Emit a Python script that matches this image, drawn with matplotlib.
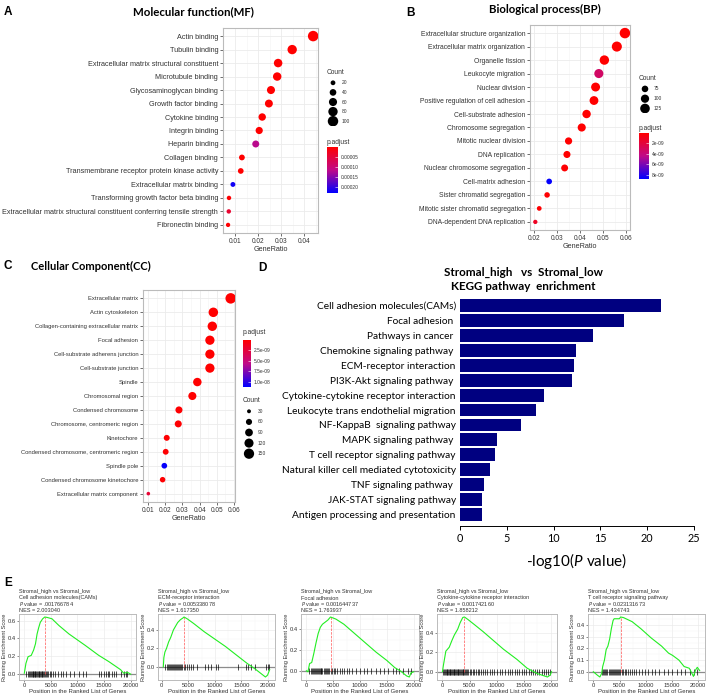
import matplotlib
matplotlib.use('Agg')
import matplotlib.pyplot as plt
import numpy as np
from matplotlib.colors import LinearSegmentedColormap, Normalize
from matplotlib.cm import ScalarMappable
from matplotlib.ticker import MultipleLocator, FormatStrFormatter

plt.rcParams['font.family'] = ['Liberation Sans', 'DejaVu Sans']
plt.rcParams['mathtext.fontset'] = 'custom'
plt.rcParams['mathtext.it'] = 'Lato:italic'
plt.rcParams['mathtext.rm'] = 'Lato'

W, H = 709, 694

# ---------------- data ----------------
mf_terms = ['Actin binding', 'Tubulin binding', 'Extracellular matrix structural constituent',
            'Microtubule binding', 'Glycosaminoglycan binding', 'Growth factor binding',
            'Cytokine binding', 'Integrin binding', 'Heparin binding', 'Collagen binding',
            'Transmembrane receptor protein kinase activity', 'Extracellular matrix binding',
            'Transforming growth factor beta binding',
            'Extracellular matrix structural constituent conferring tensile strength',
            'Fibronectin binding']
mf_ratio = [0.0439, 0.0348, 0.0287, 0.0283, 0.0256, 0.0247, 0.0218, 0.0205, 0.0190,
            0.0130, 0.0125, 0.0091, 0.0074, 0.0073, 0.0070]
mf_count = [101, 80, 66, 65, 59, 57, 50, 47, 44, 30, 29, 21, 17, 17, 16]
mf_padj = [1e-12, 1e-11, 1e-11, 2e-10, 1e-9, 2e-9, 5e-9, 1e-8, 0.00012, 1e-7, 2e-7,
           0.000222, 2e-6, 0.00004, 3e-6]

bp_terms = ['Extracellular structure organization', 'Extracellular matrix organization',
            'Organelle fission', 'Leukocyte migration', 'Nuclear division',
            'Positive regulation of cell adhesion', 'Cell-substrate adhesion',
            'Chromosome segregation', 'Mitotic nuclear division', 'DNA replication',
            'Nuclear chromosome segregation', 'Cell-matrix adhesion',
            'Sister chromatid segregation', 'Mitotic sister chromatid segregation',
            'DNA-dependent DNA replication']
bp_ratio = [0.0594, 0.0559, 0.0505, 0.0481, 0.0467, 0.0460, 0.0428, 0.0407, 0.0350,
            0.0343, 0.0333, 0.0266, 0.0257, 0.0223, 0.0206]
bp_count = [143, 134, 121, 115, 112, 110, 103, 98, 84, 82, 80, 64, 62, 54, 50]
bp_padj = [1e-20, 1e-19, 1e-15, 3.2e-9, 1e-14, 1e-12, 1e-11, 1e-12, 1e-11, 1e-12,
           1e-10, 8.7e-9, 1e-10, 1e-10, 1.2e-9]

cc_terms = ['Extracellular matrix', 'Actin cytoskeleton', 'Collagen-containing extracellular matrix',
            'Focal adhesion', 'Cell-substrate adherens junction', 'Cell-substrate junction',
            'Spindle', 'Chromosomal region', 'Condensed chromosome',
            'Chromosome, centromeric region', 'Kinetochore',
            'Condensed chromosome, centromeric region', 'Spindle pole',
            'Condensed chromosome kinetochore', 'Extracellular matrix component']
cc_ratio = [0.0581, 0.0480, 0.0474, 0.0460, 0.0460, 0.0460, 0.0387, 0.0358, 0.0280,
            0.0276, 0.0209, 0.0203, 0.0195, 0.0185, 0.0102]
cc_count = [157, 130, 128, 124, 124, 124, 105, 97, 76, 75, 57, 55, 53, 50, 27]
cc_padj = [1e-20, 1e-15, 1e-18, 1e-14, 1e-14, 1e-14, 1e-11, 1e-11, 1e-10, 1e-10,
           1e-10, 1e-10, 1.1e-8, 1e-10, 2.2e-9]

kegg_terms = ['Cell adhesion molecules(CAMs)', 'Focal adhesion ', 'Pathways in cancer ',
              'Chemokine signaling pathway ', 'ECM-receptor interaction',
              'PI3K-Akt signaling pathway ', 'Cytokine-cytokine receptor interaction',
              'Leukocyte trans endothelial migration', 'NF-KappaB  signaling pathway',
              'MAPK signaling pathway ', 'T cell receptor signaling pathway',
              'Natural killer cell mediated cytotoxicity', 'TNF signaling pathway ',
              'JAK-STAT signaling pathway', 'Antigen processing and presentation']
kegg_logp = [21.5, 17.55, 14.2, 12.4, 12.2, 12.0, 9.0, 8.1, 6.55, 3.9, 3.77, 3.17,
             2.56, 2.38, 2.35]

# GSEA running enrichment scores (position, score) and hit positions
cam_x = [0, 300, 700, 1300, 1750, 2100, 2400, 2700, 3000, 3450, 3850, 4300, 5200, 6500,
         8400, 11500, 14000, 15900, 18100, 18700, 19400, 20000]
cam_es = [0.01, 0.12, 0.195, 0.21, 0.27, 0.34, 0.45, 0.52, 0.58, 0.62, 0.64, 0.635, 0.62,
          0.545, 0.45, 0.32, 0.21, 0.14, 0.05, 0.01, 0.02, 0.0]
cam_hits = [400, 700, 900, 1100, 1250, 1400, 1550, 1700, 1850, 2000, 2100, 2250, 2400,
            2550, 2700, 2800, 2950, 3100, 3250, 3400, 3550, 3700, 3850, 4050, 4300, 4500,
            4750, 5000, 5300, 5700, 6300, 6900, 7300, 7900, 8600, 9400, 10300, 11100,
            11600, 14100, 14500, 14900, 15300, 15700, 16000, 16400, 16800, 17200, 18200,
            18700, 19100, 19400]

ecm_x = [300, 400, 600, 900, 1300, 1700, 2200, 2600, 3000, 3500, 4000, 4200, 4800, 6000,
         8000, 10000, 12000, 14000, 16000, 17500, 19500, 19900, 20300]
ecm_es = [0.0, 0.1, 0.16, 0.2, 0.27, 0.32, 0.40, 0.44, 0.48, 0.51, 0.53, 0.54, 0.52, 0.47,
          0.38, 0.30, 0.22, 0.13, 0.04, -0.02, -0.11, -0.09, -0.03]
ecm_hits = [600, 900, 1100, 1300, 1500, 1700, 1900, 2100, 2300, 2500, 2700, 2900, 3100,
            3300, 3500, 3700, 3900, 4100, 4400, 4700, 5100, 5500, 5900, 6700, 8200, 8700,
            9300, 10200, 10500, 14300, 15900, 16300, 16700, 17500, 19600, 19900, 20200]

focal_x = [0, 300, 600, 1000, 1400, 1800, 2200, 2600, 3000, 3500, 4000, 4500, 5500, 7000,
           9000, 11000, 13000, 15000, 16500, 17500, 18700, 19200, 19500, 20000]
focal_es = [0.0, -0.01, 0.07, 0.08, 0.17, 0.27, 0.36, 0.42, 0.45, 0.47, 0.49, 0.52, 0.50,
            0.45, 0.36, 0.27, 0.18, 0.10, 0.03, 0.0, -0.05, -0.06, -0.02, -0.01]
focal_hits = [500, 800, 1000, 1200, 1400, 1600, 1800, 1950, 2100, 2300, 2500, 2650, 2800,
              3000, 3200, 3400, 3600, 3800, 4000, 4200, 4500, 4800, 5100, 5400, 5800,
              6200, 6600, 7000, 7500, 8000, 8600, 9200, 10000, 10800, 11300, 12100, 13000,
              13800, 14500, 15300, 16100, 16700, 17300, 18000, 19000, 19600]

cyto_x = [0, 190, 625, 940, 1250, 1750, 2190, 2810, 3250, 3750, 4060, 4690, 5940, 7500,
          9375, 11250, 13750, 15625, 17500, 19375, 19875, 20125]
cyto_es = [0.0, 0.07, 0.21, 0.23, 0.25, 0.32, 0.375, 0.435, 0.50, 0.555, 0.56, 0.535, 0.48,
           0.41, 0.32, 0.23, 0.125, 0.035, -0.02, -0.055, -0.035, 0.0]
cyto_hits = [150, 300, 450, 600, 750, 900, 1000, 1150, 1300, 1450, 1600, 1750, 1900, 2050,
             2200, 2350, 2500, 2650, 2800, 2950, 3100, 3250, 3400, 3550, 3700, 3850, 4000,
             4200, 4400, 4600, 4800, 5000, 5300, 5600, 5900, 6200, 6500, 6800, 7100, 7500,
             7900, 8300, 8700, 9200, 9600, 10100, 10600, 11000, 11500, 12000, 12400, 12900,
             13300, 13800, 14200, 14700, 15100, 15500, 15900, 16300, 16700, 17100, 17500,
             17900, 18300, 18700, 19100, 19500, 19900]

tcell_x = [0, 790, 1250, 1590, 1790, 2120, 2450, 2780, 3110, 3440, 3770, 3970, 4430, 4960,
           5220, 5750, 7400, 9060, 11040, 13020, 14350, 15140, 16330, 17320, 18310, 19100,
           19500, 19830, 20290]
tcell_es = [0.0, -0.03, -0.045, -0.015, 0.045, 0.10, 0.19, 0.22, 0.28, 0.37, 0.44, 0.455,
            0.455, 0.455, 0.47, 0.465, 0.43, 0.37, 0.29, 0.22, 0.16, 0.14, 0.10, 0.045,
            0.03, -0.04, 0.015, 0.038, 0.01]
tcell_hits = [1700, 1900, 2100, 2300, 2500, 2700, 2900, 3100, 3300, 3500, 3700, 3900, 4100,
              4300, 4500, 4700, 4900, 5100, 5400, 5700, 6000, 6300, 6600, 7000, 7400, 7800,
              8200, 8700, 9300, 9900, 10500, 11100, 11700, 12600, 13400, 14200, 15000,
              16000, 16800, 17500, 18400, 19300, 19800]

gsea_names = ['Cell adhesion molecules(CAMs)', 'ECM-receptor interaction', 'Focal adhesion',
              'Cytokine-cytokine receptor interaction', 'T cell receptor signaling pathway']
gsea_pvals = ['.001766784', '0.005338078', '0.001644737', '0.001742160', '0.023131673']
gsea_nes = ['2.003040', '1.617350', '1.763937', '1.858212', '1.434743']

# ---------------- helpers ----------------
fig = plt.figure(figsize=(W / 100, H / 100), dpi=100)


def px_axes(l, t, r, b):
    return fig.add_axes([l / W, 1 - b / H, (r - l) / W, (b - t) / H])


cmap = LinearSegmentedColormap.from_list('padj', ['#FF0000', '#C00A88', '#0000FF'])
TXT = '#333333'
GRID = '#EBEBEB'


def dot_sizes(counts, cmin, cmax, dmin, dmax):
    c = np.asarray(counts, float)
    d = np.sqrt(dmin ** 2 + (c - cmin) / (cmax - cmin) * (dmax ** 2 - dmin ** 2))
    return (d * 0.72) ** 2


def dotplot(box, terms, ratio, count, padj, norm, srange, xlim, xticks, fs):
    ax = px_axes(*box)
    n = len(terms)
    y = np.arange(n)[::-1]
    ax.scatter(ratio, y, s=dot_sizes(count, *srange), c=padj, cmap=cmap, norm=norm,
               linewidths=0, zorder=3)
    ax.set_ylim(-0.6, n - 0.4)
    ax.set_xlim(*xlim)
    ax.set_yticks(y)
    ax.set_yticklabels(terms, fontsize=fs, color=TXT)
    ax.set_xticks(xticks)
    ax.set_xticklabels(['%.2f' % v for v in xticks], fontsize=4.7, color=TXT)
    ax.xaxis.set_minor_locator(MultipleLocator((xticks[1] - xticks[0]) / 2))
    ax.grid(True, which='major', color=GRID, lw=0.6, zorder=0)
    ax.grid(True, which='minor', axis='x', color='#F3F3F3', lw=0.4, zorder=0)
    ax.set_axisbelow(True)
    ax.tick_params(length=2, width=0.5, color=TXT, pad=1.5)
    ax.tick_params(which='minor', length=0)
    for s in ax.spines.values():
        s.set_color('#BBBBBB')
        s.set_linewidth(0.8)
    ax.set_xlabel('GeneRatio', fontsize=5.2, color=TXT, labelpad=1)
    return ax


def size_legend(x, y, breaks, srange, step):
    fig.text(x / W, 1 - y / H, 'Count', fontsize=4.8, color=TXT, va='center')
    ax = px_axes(x, y + 5, x + 30, y + 5 + step * len(breaks))
    ax.set_xlim(0, 30)
    ax.set_ylim(step * len(breaks), 0)
    ax.axis('off')
    yy = step * (np.arange(len(breaks)) + 0.5)
    ax.scatter(np.full(len(breaks), 6), yy, s=dot_sizes(breaks, *srange), color='black',
               linewidths=0)
    for v, yv in zip(breaks, yy):
        ax.text(15, yv, str(v), fontsize=3.5, color=TXT, va='center')


def color_legend(x, y, bar_top, bar_bot, norm, ticks, labels, width=11):
    fig.text(x / W, 1 - y / H, 'p.adjust', fontsize=4.8, color=TXT, va='center')
    cax = px_axes(x, bar_top, x + width, bar_bot)
    cb = fig.colorbar(ScalarMappable(norm=norm, cmap=cmap), cax=cax)
    cax.invert_yaxis()
    cb.outline.set_visible(False)
    cb.set_ticks(ticks)
    cb.set_ticklabels(labels)
    cax.tick_params(labelsize=3.5, labelcolor=TXT, length=2, width=0.4, color='white',
                    direction='in', pad=2)


# ---------------- A: molecular function ----------------
mf_norm = Normalize(0, 0.000232)
mf_size = (16, 101, 4.3, 10.5)
dotplot((223, 28, 318, 233), mf_terms, mf_ratio, mf_count, mf_padj, mf_norm,
        mf_size, (0.0048, 0.046), [0.01, 0.02, 0.03, 0.04], 5.25)
size_legend(327, 73, [20, 40, 60, 80, 100], mf_size, 9.6)
color_legend(327, 142, 147, 193, mf_norm, [0.00005, 0.00010, 0.00015, 0.00020],
             ['0.00005', '0.00010', '0.00015', '0.00020'])
fig.text(193 / W, 1 - 12 / H, 'Molecular function(MF)', fontsize=8.3, fontweight='bold',
         family='Lato', ha='center', va='center')
fig.text(4 / W, 1 - 12 / H, 'A', fontsize=8.5, fontweight='bold', va='center')

# ---------------- B: biological process ----------------
bp_norm = Normalize(0, 8.8e-9)
bp_size = (50, 143, 4.3, 10.5)
dotplot((530, 25, 630, 230), bp_terms, bp_ratio, bp_count, bp_padj, bp_norm,
        bp_size, (0.0183, 0.0616), [0.02, 0.03, 0.04, 0.05, 0.06], 4.85)
size_legend(639, 79, [75, 100, 125], bp_size, 9.8)
color_legend(639, 128, 133, 179, bp_norm, [2e-9, 4e-9, 6e-9, 8e-9],
             ['2e-09', '4e-09', '6e-09', '8e-09'], width=10)
fig.text(545 / W, 1 - 9 / H, 'Biological process(BP)', fontsize=8.2, fontweight='bold',
         family='Lato', ha='center', va='center')
fig.text(406 / W, 1 - 13 / H, 'B', fontsize=8.5, fontweight='bold', va='center')

# ---------------- C: cellular component ----------------
cc_norm = Normalize(0, 1.12e-8)
cc_size = (27, 157, 3.6, 10.5)
dotplot((143, 290, 235, 502), cc_terms, cc_ratio, cc_count, cc_padj, cc_norm,
        cc_size, (0.0071, 0.0606), [0.01, 0.02, 0.03, 0.04, 0.05, 0.06], 4.2)
color_legend(243, 333, 340, 387, cc_norm, [2.5e-9, 5.0e-9, 7.5e-9, 1.0e-8],
             ['2.5e-09', '5.0e-09', '7.5e-09', '1.0e-08'], width=8)
size_legend(243, 401, [30, 60, 90, 120, 150], cc_size, 10.6)
fig.text(91 / W, 1 - 266 / H, 'Cellular Component(CC)', fontsize=8.0, fontweight='bold',
         family='Lato', ha='center', va='center')
fig.text(4 / W, 1 - 266 / H, 'C', fontsize=8.5, fontweight='bold', va='center')

# ---------------- D: KEGG bars ----------------
axd = px_axes(460, 299, 694, 526)
yk = np.arange(len(kegg_terms))
axd.barh(yk, kegg_logp, height=0.86, color='#000080')
axd.set_ylim(14.76, -0.43)
axd.set_xlim(0, 25)
axd.set_yticks(yk)
axd.set_yticklabels(kegg_terms, fontsize=7.3, family='Lato')
axd.tick_params(axis='y', length=0, pad=3)
axd.set_xticks([0, 5, 10, 15, 20, 25])
axd.tick_params(axis='x', length=3, width=0.7, labelsize=7.8, pad=2)
for lab in axd.get_xticklabels():
    lab.set_family('Lato')
for s in ['top', 'right', 'left']:
    axd.spines[s].set_visible(False)
axd.spines['bottom'].set_linewidth(0.7)
axd.set_xlabel('-log10($\\it{P}$ value)', fontsize=11, family='Lato', labelpad=5)
fig.text(523 / W, 1 - 272 / H, 'Stromal_high   vs  Stromal_low', fontsize=8.4,
         fontweight='bold', family='Lato', ha='center', va='center')
fig.text(523 / W, 1 - 286 / H, 'KEGG pathway  enrichment', fontsize=8.4,
         fontweight='bold', family='Lato', ha='center', va='center')
fig.text(258 / W, 1 - 268 / H, 'D', fontsize=8.5, fontweight='bold', va='center')

# ---------------- E: GSEA ----------------
gsea_boxes = [(19, 614, 136, 680), (158, 614, 275, 680), (301, 614, 419, 680),
              (437, 614, 557, 680), (588, 614, 705, 680)]
gsea_curves = [(cam_x, cam_es, cam_hits), (ecm_x, ecm_es, ecm_hits),
               (focal_x, focal_es, focal_hits), (cyto_x, cyto_es, cyto_hits),
               (tcell_x, tcell_es, tcell_hits)]
gsea_ystep = [0.2, 0.2, 0.2, 0.2, 0.1]

for box, (xs, es, hits), name, pv, nes, ys in zip(gsea_boxes, gsea_curves, gsea_names,
                                                  gsea_pvals, gsea_nes, gsea_ystep):
    ax = px_axes(*box)
    ax.plot(xs, es, color='#22EE22', lw=0.8, zorder=3)
    ax.axhline(0, color='#8C8C8C', lw=0.9, zorder=1)
    h = 0.05 * (max(es) - min(es))
    ax.vlines(hits, -h, h, color='black', lw=0.7, alpha=0.7, zorder=2)
    i = int(np.argmax(es))
    ax.vlines(xs[i], 0, es[i], colors='#FF5555', linestyles='--', lw=0.5, zorder=2)
    ax.margins(0.05)
    ax.set_xticks([0, 5000, 10000, 15000, 20000])
    ax.yaxis.set_major_locator(MultipleLocator(ys))
    ax.yaxis.set_major_formatter(FormatStrFormatter('%.1f'))
    ax.xaxis.set_minor_locator(MultipleLocator(2500))
    ax.yaxis.set_minor_locator(MultipleLocator(ys / 2))
    ax.grid(True, which='major', color=GRID, lw=0.5, zorder=0)
    ax.grid(True, which='minor', color='#F4F4F4', lw=0.35, zorder=0)
    ax.set_axisbelow(True)
    ax.tick_params(labelsize=4.2, labelcolor=TXT, length=1.5, width=0.4, color=TXT, pad=0.8)
    ax.tick_params(which='minor', length=0)
    for s in ax.spines.values():
        s.set_color('#BBBBBB')
        s.set_linewidth(0.7)
    ax.set_xlabel('Position in the Ranked List of Genes', fontsize=4.3, color=TXT,
                  labelpad=0.3)
    ax.set_ylabel('Running Enrichment Score', fontsize=4.1, color=TXT, labelpad=0.8)
    lines = ['Stromal_high vs Stromal_low', name, '$\\it{P}$ value = ' + pv, 'NES = ' + nes]
    for k, line in enumerate(lines):
        fig.text(box[0] / W, 1 - (592 + 6 * k) / H, line, fontsize=4.0, color=TXT,
                 va='center')

fig.text(4 / W, 1 - 583 / H, 'E', fontsize=8.5, fontweight='bold', va='center')

fig.savefig('out.png', dpi=100)
